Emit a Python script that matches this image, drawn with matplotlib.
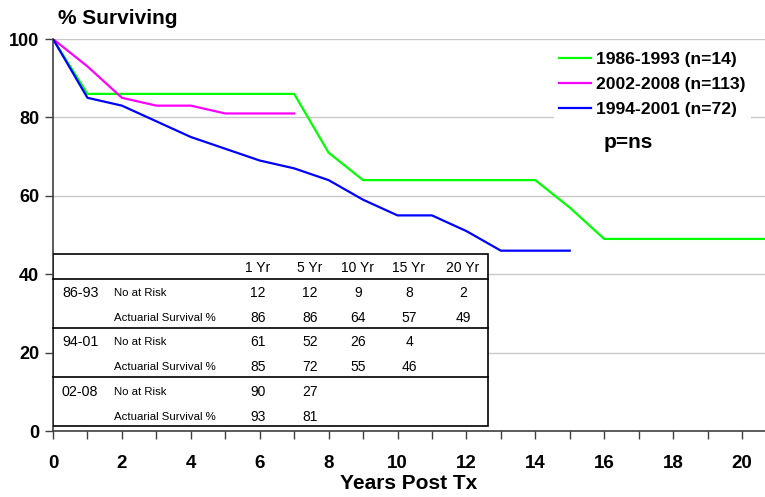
import matplotlib.pyplot as plt
from matplotlib.patches import Rectangle

# survival curves
years_8693 = [0, 1, 2, 3, 4, 5, 6, 7, 8, 9, 10, 11, 12, 13, 14, 15, 16, 17, 18, 19, 20, 21]
surv_8693 = [100, 86, 86, 86, 86, 86, 86, 86, 71, 64, 64, 64, 64, 64, 64, 57, 49, 49, 49, 49, 49, 49]
years_0208 = [0, 1, 2, 3, 4, 5, 6, 7]
surv_0208 = [100, 93, 85, 83, 83, 81, 81, 81]
years_9401 = [0, 1, 2, 3, 4, 5, 6, 7, 8, 9, 10, 11, 12, 13, 14, 15]
surv_9401 = [100, 85, 83, 79, 75, 72, 69, 67, 64, 59, 55, 55, 51, 46, 46, 46]

labels = ['1986-1993 (n=14)', '2002-2008 (n=113)', '1994-2001 (n=72)']
colors = ['#00ff00', '#ff00ff', '#0000ff']

# life table
table_cols = ['1 Yr', '5 Yr', '10 Yr', '15 Yr', '20 Yr']
cohorts = ['86-93', '94-01', '02-08']
at_risk = [['12', '12', '9', '8', '2'],
           ['61', '52', '26', '4', ''],
           ['90', '27', '', '', '']]
actuarial = [['86', '86', '64', '57', '49'],
             ['85', '72', '55', '46', ''],
             ['93', '81', '', '', '']]

plt.rcParams['font.family'] = ['Liberation Sans', 'DejaVu Sans']

fig = plt.figure(figsize=(7.65, 4.97), dpi=100)
ax = fig.add_axes([53 / 765, 1 - 431 / 497, 712 / 765, 392 / 497])

for xs, ys, lab, col in zip([years_8693, years_0208, years_9401],
                            [surv_8693, surv_0208, surv_9401], labels, colors):
    ax.plot(xs, ys, color=col, lw=1.6, label=lab, zorder=3)

ax.set_xlim(0, 712 / 34.45)
ax.set_ylim(0, 100)
ax.set_xticks(range(0, 21), minor=True)
ax.set_xticks(range(0, 21, 2))
ax.set_yticks(range(0, 101, 20))
ax.yaxis.grid(True, color='#c8c8c8', lw=1)
ax.set_axisbelow(True)
for s in ['top', 'right']:
    ax.spines[s].set_visible(False)
for s in ['left', 'bottom']:
    ax.spines[s].set_color('#404040')
    ax.spines[s].set_linewidth(1.2)
ax.tick_params(axis='x', which='both', length=6, width=1, color='#404040', direction='out')
ax.tick_params(axis='y', length=6, width=1, color='#404040', pad=4)
ax.tick_params(axis='x', pad=11)
for t in ax.get_xticklabels():
    t.set_fontweight('bold')
    t.set_fontsize(13.5)
for t in ax.get_yticklabels():
    t.set_fontweight('bold')
    t.set_fontsize(13)
ax.set_xlabel('Years Post Tx', fontsize=15, fontweight='bold', labelpad=2)
fig.text(58 / 765, 1 - 18 / 497, '% Surviving', fontsize=15, fontweight='bold', va='center')

leg = ax.legend(loc='upper left', bbox_to_anchor=(545 / 765, 1 - 38 / 497),
                bbox_transform=fig.transFigure, frameon=True, fancybox=False,
                edgecolor='none', framealpha=1, handlelength=1.85, handletextpad=0.25,
                labelspacing=0.56, borderpad=0.3, prop={'weight': 'bold', 'size': 12.6})
ax.text(0.808, 0.737, 'p=ns', transform=ax.transAxes, fontsize=15, fontweight='bold',
        ha='center', va='center')

# table box
ax.add_patch(Rectangle((0, 0.013), 0.611, 0.439, transform=ax.transAxes,
                       facecolor='white', edgecolor='black', lw=1.2, zorder=4))
for yl in [0.388, 0.263, 0.138]:
    ax.plot([0, 0.611], [yl, yl], transform=ax.transAxes, color='black', lw=1.2,
            zorder=5, clip_on=False)
col_x = [0.288, 0.361, 0.428, 0.5, 0.576]
for cx, name in zip(col_x, table_cols):
    ax.text(cx, 0.416, name, transform=ax.transAxes, fontsize=10, ha='center',
            va='center', zorder=6)
row_y = [(0.352, 0.288), (0.227, 0.163), (0.0995, 0.036)]
for (y1, y2), coh, risk, act in zip(row_y, cohorts, at_risk, actuarial):
    ax.text(0.0126, y1, coh, transform=ax.transAxes, fontsize=10.3, va='center', zorder=6)
    ax.text(0.0857, y1, 'No at Risk', transform=ax.transAxes, fontsize=8.2,
            va='center', zorder=6)
    ax.text(0.0857, y2, 'Actuarial Survival %', transform=ax.transAxes, fontsize=8.2,
            va='center', zorder=6)
    for cx, r, a in zip(col_x, risk, act):
        ax.text(cx, y1, r, transform=ax.transAxes, fontsize=10, ha='center',
                va='center', zorder=6)
        ax.text(cx, y2, a, transform=ax.transAxes, fontsize=10, ha='center',
                va='center', zorder=6)

fig.savefig('out.png', dpi=100)
